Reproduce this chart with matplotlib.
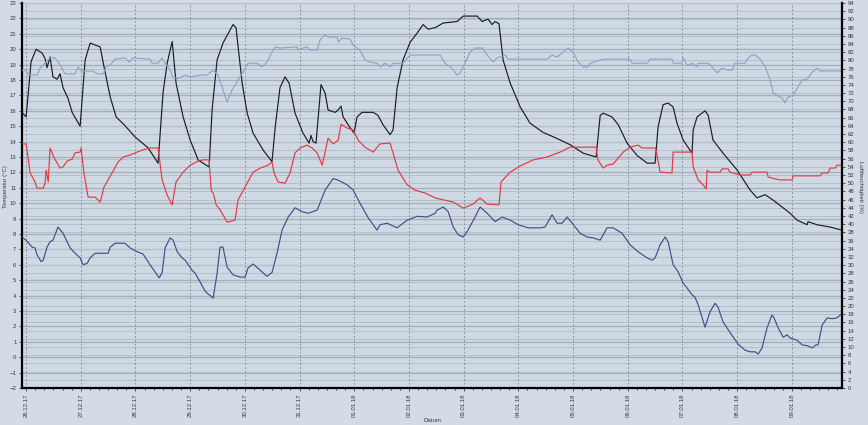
import matplotlib
matplotlib.use("Agg")
import matplotlib.pyplot as plt
import matplotlib.dates as mdates
import pandas as pd

plt.rcParams["font.family"] = ["Liberation Sans", "DejaVu Sans"]

# hours since 26.12.17 00:00 and readings
start = pd.Timestamp("2017-12-26 00:00")

temp_in_h = [-1.8, 0, 2.2, 4.4, 7.0, 8.3, 9.2, 10.5, 11.8, 13.6, 14.9, 16.2, 18.4, 20.2, 23.7,
             25.9, 28.1, 29.8, 32.5, 34.2, 36.9, 39.5, 43.0, 47.8, 53.5, 57.9, 60.1, 61.9, 64.1,
             65.8, 68.9, 72.0, 75.5, 80.3, 81.6, 83.8, 86.4, 90.8, 92.1, 94.8, 97.0, 99.6, 104.0,
             107.9, 109.3, 111.4, 113.6, 115.4, 118.0, 121.5, 124.2, 125.0, 125.9, 127.2, 129.4,
             131.2, 132.5, 135.6, 136.9, 138.2, 139.1, 142.2, 143.9, 145.2, 147.4, 152.3, 154.4,
             156.6, 159.7, 161.0, 162.8, 165.4, 168.5, 171.6, 174.2, 176.4, 179.5, 183.0, 189.1,
             191.8, 197.9, 200.1, 202.7, 204.5, 205.8, 207.5, 209.3, 212.4, 216.8, 221.1, 226.8,
             233.0, 238.7, 244.4, 250.1, 251.9, 253.2, 257.1, 259.8, 263.7, 268.1, 272.5, 276.0,
             277.3, 279.5, 281.7, 283.9, 285.6, 288.3, 292.2, 292.7, 294.4, 297.9, 299.3, 301.4,
             305.8, 312.0, 317.7, 320.7, 324.3, 327.8, 332.2, 335.2, 338.3, 342.7, 343.1, 347.1,
             352.8, 358.0]
temp_in = [15.9, 15.6, 19.2, 20.0, 19.75, 19.4, 18.8, 19.5, 18.2, 18.05, 18.4, 17.5, 16.8, 15.9, 15.0,
           19.3, 20.4, 20.3, 20.15, 18.85, 16.9, 15.6, 15.1, 14.3, 13.6, 12.6, 17.2, 19.1, 20.5,
           17.8, 15.6, 14.1, 12.8, 12.35, 16.05, 19.3, 20.4, 21.6, 21.4, 17.8, 15.85, 14.55, 13.45,
           12.7, 14.95, 17.5, 18.2, 17.8, 15.85, 14.55, 13.9, 14.4, 14.0, 13.9, 17.7,
           17.15, 16.05, 15.9, 16.05, 16.3, 15.6, 14.9, 14.55, 15.6, 15.9, 15.9, 15.7,
           15.1, 14.45, 14.75, 17.5, 19.3, 20.45, 21.05, 21.6, 21.3, 21.4, 21.7, 21.8,
           22.15, 22.15, 21.8, 21.95, 21.6, 21.8, 21.65, 19.3, 17.8, 16.25, 15.2, 14.6,
           14.2, 13.8, 13.25, 13.0, 15.7, 15.85, 15.6, 15.1, 13.9, 13.1, 12.6, 12.6,
           14.95, 16.4, 16.5, 16.25, 15.2, 14.1, 13.25, 14.75, 15.6, 16.0, 15.7, 14.1,
           13.25, 12.15, 10.85, 10.35, 10.55, 10.2, 9.7, 9.35, 8.9, 8.6, 8.8, 8.6,
           8.45, 8.25]

hum_in_h = [-1.8, 0, 1.8, 3.9, 4.8, 7.5, 8.3, 8.8, 9.7, 10.5, 12.3, 14.9, 16.2, 18.0, 20.2, 21.5,
            23.7, 24.1, 25.4, 27.2, 30.3, 32.5, 34.2, 37.7, 40.4, 42.6, 45.6, 48.7, 52.2, 54.4,
            57.9, 58.4, 59.7, 61.9, 64.1, 65.8, 68.9, 72.0, 75.5, 77.7, 80.3, 81.2, 82.1, 83.4,
            85.1, 88.2, 91.7, 93.0, 96.1, 99.6, 102.7, 106.2, 107.9, 108.8, 110.6, 113.6, 115.8,
            118.0, 120.2, 123.3, 125.5, 127.7, 129.9, 131.2, 132.5, 134.7, 136.9, 138.2, 140.8,
            143.5, 145.7, 148.7, 152.3, 155.3, 159.7, 161.0, 163.2, 167.2, 170.7, 175.1, 179.5,
            181.7, 187.4, 191.8, 196.1, 199.2, 202.3, 207.5, 208.4, 212.4, 216.8, 222.5, 228.6,
            234.3, 238.7, 250.1, 250.9, 253.2, 254.9, 257.6, 262.0, 265.0, 268.5, 270.3, 276.0,
            276.4, 278.2, 283.4, 283.9, 292.2, 292.7, 294.9, 297.1, 298.4, 298.8, 299.7, 304.5,
            305.4, 308.0, 308.9, 313.3, 317.7, 318.5, 325.1, 325.6, 330.8, 336.1, 336.5, 348.4,
            349.3, 351.9, 352.8, 355.0, 355.8, 358.0]
hum_in = [59.6, 59.6, 52.5, 50.3, 48.8, 48.8, 50.0, 53.2, 50.3, 58.6, 56.2, 53.7, 54.0, 55.4, 55.9, 57.4,
          57.6, 58.6, 52.5, 46.6, 46.6, 45.4, 49.1, 52.5, 55.2, 56.4, 56.9, 57.6, 58.3, 58.6,
          58.6, 56.4, 50.8, 47.1, 44.7, 50.3, 52.7, 54.4, 55.4, 55.7, 55.7, 48.3, 47.6, 44.7,
          43.5, 40.5, 41.0, 45.9, 49.1, 52.7, 53.7, 54.4, 55.2, 52.5, 50.3, 50.0, 52.5,
          57.4, 58.6, 59.3, 58.6, 57.4, 54.4, 57.6, 61.0, 59.6, 60.5, 64.4, 63.5,
          63.0, 60.5, 58.8, 57.6, 59.6, 59.8, 57.4, 53.2, 49.6, 48.3, 47.6, 46.4,
          46.1, 45.4, 43.9, 44.9, 46.4, 44.9, 44.7, 50.3, 52.7, 54.2, 55.7, 56.4,
          57.6, 58.8, 58.8, 55.7, 53.7, 54.4, 54.7, 57.6, 58.8, 59.3, 58.6, 58.6,
          58.1, 52.7, 52.5, 57.6, 57.6, 54.0, 50.8, 49.6, 48.6, 53.2, 52.7, 52.7,
          53.5, 53.5, 52.7, 52.0, 52.0, 52.7, 52.7, 51.5, 50.8, 50.8, 51.8, 51.8,
          52.5, 52.5, 53.7, 53.7, 54.4, 54.4]

hum_out_h = [-1.8, 0, 0.9, 4.8, 6.1, 8.3, 10.5, 12.7, 14.9, 17.1, 21.5, 22.8, 23.7, 24.6, 29.4,
             31.2, 33.8, 35.1, 36.9, 39.1, 43.4, 45.2, 46.9, 54.4, 55.3, 57.9, 59.7, 61.0, 63.2,
             64.5, 67.6, 69.8, 72.0, 76.3, 79.4, 82.1, 82.9, 84.2, 86.0, 88.2, 90.4, 93.0, 95.2,
             97.4, 101.4, 103.5, 105.7, 107.9, 109.3, 111.4, 118.9, 119.3, 121.5, 123.3, 124.6,
             127.7, 129.0, 131.2, 132.5, 136.5, 136.9, 138.6, 142.2, 143.5, 146.5, 148.7, 150.9,
             154.0, 155.3, 157.5, 159.7, 161.0, 165.4, 168.5, 181.7, 183.8, 186.9, 189.1, 190.4,
             192.6, 194.8, 197.0, 200.1, 202.3, 204.9, 206.7, 210.2, 211.5, 228.6, 230.8, 233.0,
             235.6, 237.8, 240.0, 242.2, 244.4, 246.6, 247.5, 253.2, 265.0, 265.9, 272.5, 273.8,
             283.4, 283.9, 287.8, 288.3, 290.0, 291.3, 292.2, 294.4, 294.9, 299.3, 301.0, 303.2,
             305.4, 307.6, 309.8, 311.1, 315.5, 316.4, 318.5, 319.9, 322.1, 324.3, 326.5, 327.8,
             330.0, 331.7, 333.0, 334.3, 336.5, 338.7, 340.5, 342.7, 344.9, 347.1, 348.4, 358.0]
hum_out = [77.6, 77.6, 76.4, 76.4, 78.1, 79.3, 80.6, 80.6, 78.9, 76.7, 76.7, 78.4, 77.6, 77.4, 77.4,
           76.7, 76.7, 78.4, 78.9, 80.3, 80.6, 79.6, 80.6, 80.3, 79.3, 79.3, 80.6, 79.3, 77.6,
           75.7, 75.7, 76.4, 75.9, 76.4, 76.4, 77.6, 77.1, 76.4, 73.5, 69.8, 72.8, 75.2, 77.1,
           79.3, 79.3, 78.4, 79.6, 82.0, 83.3, 83.0, 83.3, 82.5, 83.0, 83.3, 82.5,
           82.5, 85.0, 86.2, 85.7, 85.7, 84.5, 85.4, 85.2, 83.7, 82.5, 80.1, 79.6,
           79.3, 78.4, 79.3, 78.4, 79.3, 79.3, 81.3, 81.3, 79.3, 78.1, 76.4, 76.9,
           79.3, 82.0, 83.0, 83.0, 81.3, 79.6, 80.6, 81.3, 80.3, 80.3, 81.3, 80.8,
           82.0, 83.0, 82.0, 79.6, 78.4, 78.4, 79.3, 80.3, 80.3, 79.3, 79.3, 80.3,
           80.3, 79.3, 79.3, 80.6, 78.9, 78.9, 79.3, 78.4, 79.3, 79.3, 78.4, 76.9,
           78.1, 77.6, 77.6, 79.3, 79.3, 80.3, 81.3, 81.3, 80.3, 78.4, 75.2, 72.0,
           71.3, 70.8, 69.6, 71.0, 71.5, 73.5, 75.2, 75.4, 77.1, 78.1, 77.4, 77.4]

temp_out_h = [-1.8, 0, 2.6, 3.9, 4.8, 6.6, 7.5, 9.2, 10.5, 11.8, 14.0, 16.2, 18.0, 19.3, 21.5, 23.7,
              25.0, 26.8, 28.1, 30.3, 36.0, 36.9, 39.1, 43.4, 45.6, 48.7, 51.3, 54.4, 58.4, 59.7,
              61.0, 63.2, 64.5, 66.3, 68.4, 69.8, 72.8, 74.2, 76.3, 78.5, 79.9, 82.1, 83.8, 85.1,
              86.4, 88.2, 90.8, 93.9, 96.1, 97.4, 99.6, 102.7, 105.7, 107.9, 110.1, 112.3, 115.0,
              118.0, 121.1, 123.7, 127.7, 131.2, 134.7, 136.9, 140.8, 143.5, 146.5, 150.1, 154.0,
              155.3, 158.4, 162.8, 167.2, 171.6, 175.9, 179.5, 180.3, 183.0, 185.2, 187.4, 189.6,
              191.8, 193.9, 197.0, 199.2, 202.3, 205.8, 208.9, 212.4, 215.9, 220.3, 225.5, 227.7,
              230.8, 233.0, 235.2, 237.4, 239.6, 243.1, 246.2, 248.8, 251.9, 254.9, 257.6, 261.5,
              265.0, 268.5, 272.5, 274.7, 276.0, 278.2, 280.4, 281.7, 283.9, 286.1, 288.3, 290.0,
              292.2, 293.5, 294.9, 297.9, 300.1, 302.3, 303.6, 305.8, 308.9, 312.4, 315.5, 317.7,
              319.9, 321.2, 322.9, 325.1, 327.3, 328.2, 330.0, 332.2, 333.9, 335.2, 338.3, 340.5,
              342.7, 344.9, 346.6, 347.5, 349.3, 351.5, 353.7, 355.8, 358.0]
temp_out = [7.8, 7.6, 7.15, 7.1, 6.65, 6.2, 6.3, 7.15, 7.5, 7.6, 8.45, 8.05, 7.5, 7.1, 6.75, 6.45,
            6.0, 6.1, 6.45, 6.75, 6.75, 7.15, 7.4, 7.4, 7.1, 6.85, 6.7, 6.0, 5.15, 5.5,
            7.1, 7.75, 7.6, 6.85, 6.45, 6.3, 5.65, 5.45, 4.9, 4.3, 4.1, 3.85, 5.45, 7.15,
            7.15, 5.85, 5.35, 5.2, 5.2, 5.8, 6.05, 5.65, 5.25, 5.5, 6.75, 8.25, 9.1,
            9.7, 9.45, 9.35, 9.55, 10.85, 11.6, 11.5, 11.2, 10.85, 10.0, 9.05, 8.25,
            8.6, 8.7, 8.4, 8.9, 9.15, 9.1, 9.35, 9.55, 9.75, 9.45, 8.45, 7.95,
            7.8, 8.25, 9.1, 9.75, 9.35, 8.8, 9.1, 8.9, 8.6, 8.4, 8.4, 8.45,
            9.25, 8.7, 8.7, 9.1, 8.7, 8.05, 7.8, 7.75, 7.6, 8.4, 8.4, 8.05,
            7.3, 6.85, 6.45, 6.3, 6.45, 7.3, 7.8, 7.5, 6.0, 5.55, 4.8, 4.5,
            4.05, 3.9, 3.4, 1.95, 2.95, 3.5, 3.25, 2.3, 1.6, 0.85, 0.45, 0.35,
            0.35, 0.2, 0.6, 1.9, 2.75, 2.55, 1.9, 1.3, 1.45, 1.25, 1.1, 0.8,
            0.75, 0.6, 0.8, 0.8, 2.1, 2.55, 2.5, 2.55, 2.85]

t_lim = (-1.8, 358.0)
temp_lim = (-2, 23)
hum_lim = (0, 94)


def to_time(hours):
    return start + pd.to_timedelta(hours, unit="h")


BG = "#d3dce6"
TXT = "#3a3a3a"
FS = 4.3
LW = 0.85

fig = plt.figure(figsize=(8.68, 4.25), dpi=100, facecolor=BG)
ax = fig.add_axes([22 / 868, 37 / 425, 820 / 868, 385 / 425])
ax.set_facecolor("#cfd9e4")
ax2 = ax.twinx()
ax2.set_zorder(ax.get_zorder() + 1)
ax2.patch.set_visible(False)

ax.set_ylim(*temp_lim)
ax2.set_ylim(*hum_lim)
ax.set_xlim(to_time(t_lim[0]), to_time(t_lim[1]))

# horizontal grid: left scale every 1 deg, right scale every 2 %
span_t = temp_lim[1] - temp_lim[0]
for v in range(temp_lim[0], temp_lim[1] + 1):
    ax.axhline(v, color="#a3aebb", lw=0.9, zorder=0.5)
for p in range(hum_lim[0], hum_lim[1] + 1, 2):
    ax.axhline(temp_lim[0] + p / hum_lim[1] * span_t, color="#b6c0cc", lw=0.7, zorder=0.5)

ax.xaxis.set_major_locator(mdates.DayLocator())
ax.xaxis.set_major_formatter(mdates.DateFormatter("%d.%m.%y"))
ax.xaxis.set_minor_locator(mdates.HourLocator(byhour=range(0, 24, 4)))
ax.grid(axis="x", which="major", color="#8a95a2", lw=0.7, linestyle=(0, (2, 2)), zorder=0.6)

ax.plot(to_time(temp_in_h), temp_in, color="#1c1c22", lw=LW, zorder=3)
ax.plot(to_time(temp_out_h), temp_out, color="#4b4a8a", lw=LW, zorder=3)
ax2.plot(to_time(hum_out_h), hum_out, color="#90a3c8", lw=LW)
ax2.plot(to_time(hum_in_h), hum_in, color="#e23a44", lw=LW)

ax.set_yticks(range(temp_lim[0], temp_lim[1] + 1))
ax2.set_yticks(range(hum_lim[0], hum_lim[1] + 1, 2))

for a in (ax, ax2):
    a.tick_params(labelsize=FS, colors=TXT, length=2.5, width=0.6, pad=1.5)
    a.spines["top"].set_visible(False)
ax.tick_params(axis="x", which="minor", length=1.5, width=0.5)
plt.setp(ax.get_xticklabels(), rotation=90)
for s in ("left", "bottom"):
    ax.spines[s].set_linewidth(1.6)
ax2.spines["right"].set_linewidth(1.6)
ax.spines["right"].set_visible(False)
ax2.spines["left"].set_visible(False)
ax2.spines["bottom"].set_visible(False)

fig.text(6 / 868, 1 - 187 / 425, "Temperatur (°C)", fontsize=FS, color=TXT,
         rotation=90, ha="center", va="center")
fig.text(861 / 868, 1 - 187 / 425, "Luftfeuchtigkeit (%)", fontsize=FS, color=TXT,
         rotation=270, ha="center", va="center")
fig.text(432 / 868, 1 - 420 / 425, "Datum", fontsize=FS, color=TXT,
         ha="center", va="center")

fig.savefig("out.png", dpi=100, facecolor=BG)
